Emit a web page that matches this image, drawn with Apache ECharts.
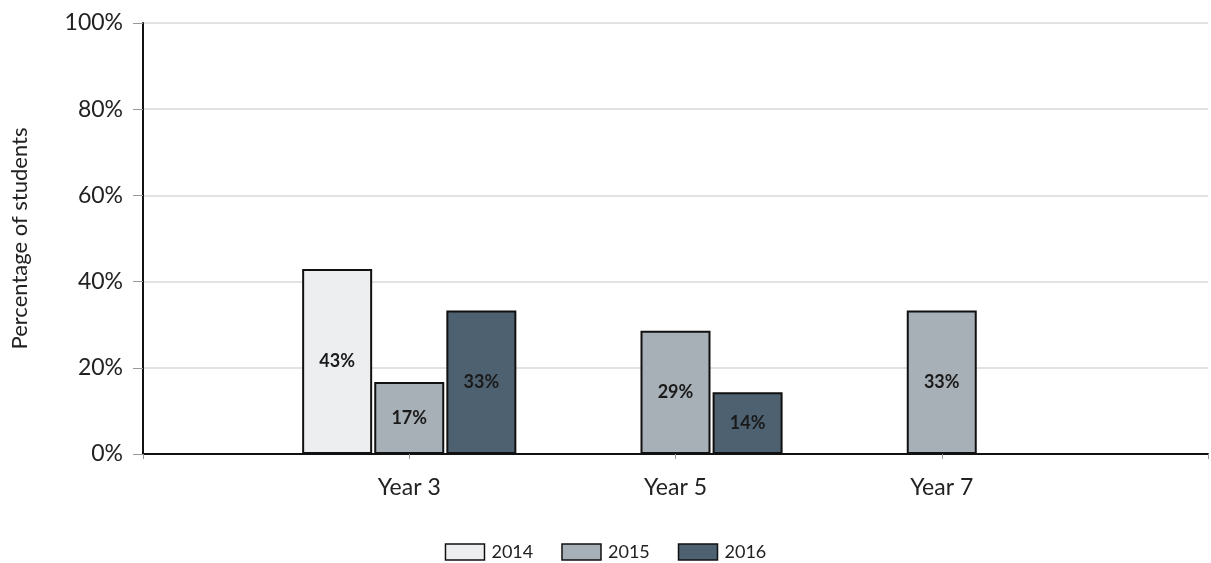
<!DOCTYPE html>
<html><head><meta charset="utf-8">
<script src="https://cdn.jsdelivr.net/npm/echarts@6/dist/echarts.min.js"></script>
<style>html,body{margin:0;padding:0;background:#fff}#c{width:1211px;height:563px}</style>
</head><body><div id="c"></div>
<script>
const categories = ['', 'Year 3', 'Year 5', 'Year 7', ''];
const years = ['2014', '2015', '2016'];
const s2014 = [null, 42.9, null, null, null];
const s2015 = [null, 16.7, 28.6, 33.3, null];
const s2016 = [null, 33.3, 14.3, null, null];
const yTicks = [0, 20, 40, 60, 80, 100];
const colors = ['#eceef0', '#a7afb7', '#4e6170'];
const font = 'Lato, "Open Sans", sans-serif';

const chart = echarts.init(document.getElementById('c'));
const mk = (name, data, i) => ({
  name, type: 'bar', data, barWidth: 70, barGap: '3%',
  itemStyle: { color: colors[i], borderColor: '#111', borderWidth: 2 },
  label: { show: true, position: 'inside', fontFamily: font, fontWeight: 'bold', fontSize: 18, color: '#1a1a1a',
    formatter: p => Math.round(p.value) + '%' },
  emphasis: { disabled: true }
});
chart.setOption({
  animation: false,
  grid: { left: 143, right: 0, top: 23, bottom: 109, containLabel: false },
  legend: { bottom: -3, left: 'center', itemWidth: 39, itemHeight: 16, itemGap: 28,
    icon: 'rect', textStyle: { fontFamily: font, fontSize: 18, color: '#222', padding: [0, 0, 0, 2] },
    data: years, itemStyle: { borderColor: '#111', borderWidth: 1.5 } },
  xAxis: { type: 'category', data: categories, boundaryGap: false,
    axisLine: { lineStyle: { color: '#111', width: 2 } },
    axisTick: { show: true, length: 5, lineStyle: { color: '#999' } },
    axisLabel: { fontFamily: font, fontSize: 23, color: '#222', margin: 22 },
    splitLine: { show: false } },
  yAxis: { type: 'value', min: 0, max: 100, interval: 20,
    name: 'Percentage of students', nameLocation: 'middle', nameGap: 112, nameRotate: 90,
    nameTextStyle: { fontFamily: font, fontSize: 22, color: '#222' },
    axisLine: { show: true, lineStyle: { color: '#111', width: 2 } },
    axisTick: { show: true, length: 10, lineStyle: { color: '#999' } },
    axisLabel: { fontFamily: font, fontSize: 23, color: '#222', margin: 20,
      formatter: v => yTicks.includes(v) ? v + '%' : '' },
    splitLine: { lineStyle: { color: '#d9d9d9', width: 1.5 } } },
  series: [mk('2014', s2014, 0), mk('2015', s2015, 1), mk('2016', s2016, 2)]
});
</script></body></html>
